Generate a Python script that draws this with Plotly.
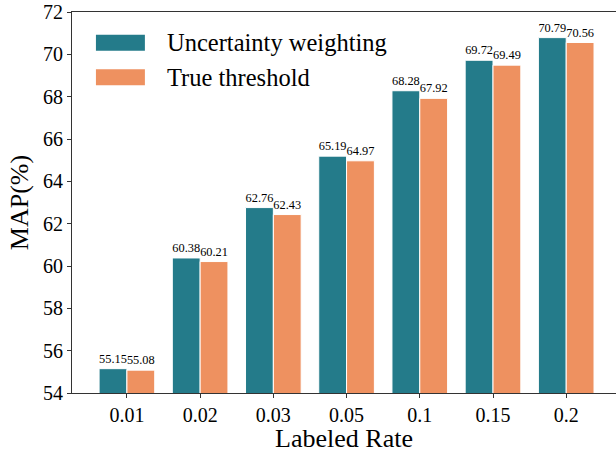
import plotly.graph_objects as go

categories = ["0.01", "0.02", "0.03", "0.05", "0.1", "0.15", "0.2"]
uncertainty = [55.15, 60.38, 62.76, 65.19, 68.28, 69.72, 70.79]
true_threshold = [55.08, 60.21, 62.43, 64.97, 67.92, 69.49, 70.56]
y_ticks = [54, 56, 58, 60, 62, 64, 66, 68, 70, 72]
series_names = ["Uncertainty weighting", "True threshold"]

FONT = "Liberation Serif"
TEAL = "#247b8a"
ORANGE = "#ee9160"
W = 0.38

xs = list(range(len(categories)))

fig = go.Figure()
fig.add_trace(go.Bar(
    x=xs, y=uncertainty, name=series_names[0],
    width=W, offset=-W, marker=dict(color=TEAL, line=dict(color="white", width=1)),
    text=[f"{v:.2f}" for v in uncertainty], textposition="outside",
    textfont=dict(family=FONT, size=12.5, color="black"), cliponaxis=False,
))
fig.add_trace(go.Bar(
    x=xs, y=true_threshold, name=series_names[1],
    width=W, offset=0, marker=dict(color=ORANGE, line=dict(color="white", width=1)),
    text=[f"{v:.2f}" for v in true_threshold], textposition="outside",
    textfont=dict(family=FONT, size=12.5, color="black"), cliponaxis=False,
))

# legend drawn as swatches + labels (matplotlib-style large patches)
for i, (name, col) in enumerate(zip(series_names, [TEAL, ORANGE])):
    y_top = 0.940 - i * 0.090
    fig.add_shape(type="rect", xref="paper", yref="paper",
                  x0=0.044, x1=0.134, y0=y_top - 0.042, y1=y_top,
                  fillcolor=col, line=dict(width=0))
    fig.add_annotation(xref="paper", yref="paper", x=0.171, y=y_top - 0.021,
                       xanchor="left", yanchor="middle", showarrow=False,
                       text=name, font=dict(family=FONT, size=24.5, color="black"))

fig.update_layout(
    width=616, height=453,
    margin=dict(l=72, r=0, t=12, b=60, autoexpand=False),
    paper_bgcolor="white", plot_bgcolor="white",
    font=dict(family=FONT, color="black"),
    barmode="overlay",
    showlegend=False,
    xaxis=dict(
        tickmode="array", tickvals=xs, ticktext=categories,
        range=[-0.75, 6.68], showgrid=False, zeroline=False,
        showline=True, linecolor="#333", linewidth=1.2, mirror=True,
        ticks="outside", ticklen=4, tickcolor="#333",
        tickfont=dict(family=FONT, size=20),
        title=dict(text="Labeled Rate", font=dict(family=FONT, size=26), standoff=6),
    ),
    yaxis=dict(
        range=[54, 72], tickvals=y_ticks, showgrid=False, zeroline=False,
        showline=True, linecolor="#333", linewidth=1.2,
        ticks="outside", ticklen=4, tickcolor="#333",
        tickfont=dict(family=FONT, size=20),
        title=dict(text="MAP(%)", font=dict(family=FONT, size=26), standoff=6),
    ),
)

fig.write_html("out.html", config={"displayModeBar": False},
               post_script="document.body.style.margin='0';")
